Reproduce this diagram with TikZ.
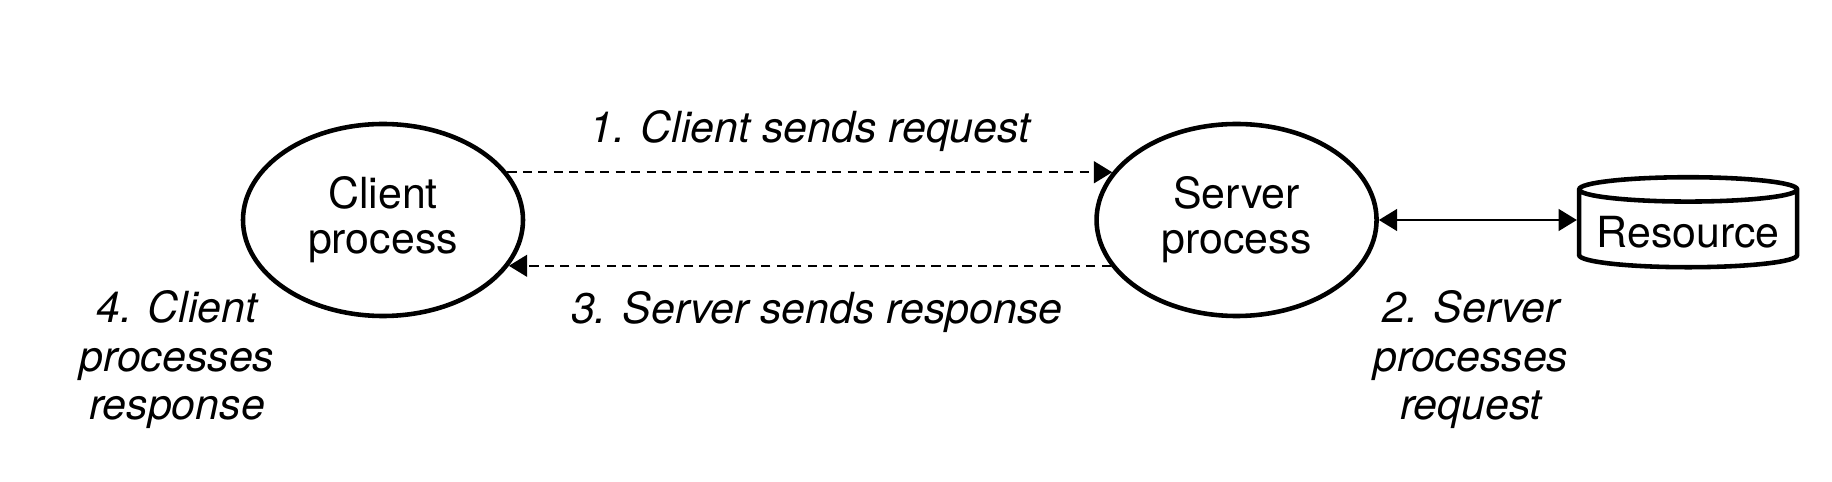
\documentclass[tikz,border=0pt]{standalone}
\usepackage{fontspec}
\setmainfont{TeX Gyre Heros}
\usetikzlibrary{positioning}
\usetikzlibrary{shapes.geometric}
\usetikzlibrary{arrows.meta}
\usetikzlibrary{calc}

\begin{document}
\begin{tikzpicture}[
  font=\fontsize{12.2}{13.8}\selectfont,
  proc/.style={draw, ellipse, line width=1.3pt, align=center, minimum width=2.8cm, minimum height=1.92cm, inner sep=0pt, font=\fontsize{12.2}{12.8}\selectfont},
  store/.style={draw, cylinder, shape border rotate=90, aspect=0.12, line width=1.3pt, minimum width=2.18cm, minimum height=0.9cm, inner sep=0.1cm},
  msg/.style={-{Triangle[length=5.2pt, width=6.2pt]}, line width=0.6pt, dash pattern=on 2.6pt off 1.8pt},
  link/.style={{Triangle[length=5.2pt, width=6.2pt]}-{Triangle[length=5.2pt, width=6.2pt]}, line width=0.6pt},
  note/.style={font=\fontsize{12.2}{13.8}\selectfont\itshape, align=center}
]
\useasboundingbox (0,0) rectangle (18.32,4.82);

% Processes
\node[proc] (client) at (3.83,2.62) {Client\\process};
\node[proc, right=5.69cm of client] (server) {Server\\process};

% Resource (disk)
\node[store, right=1.98cm of server, yshift=-0.12cm] (res) {Resource};

% Request / response
\draw[msg] (client.21) -- (server.159);
\draw[msg] (server.-160) -- (client.-20);
\draw[link] (server.east) -- (server.east -| res.west);

% Step labels
\node[note, anchor=base] (send) at ($(client)!0.5!(server)+(0,0.77)$) {1. Client sends request};
\node[note, anchor=base] (reply) at ($(client)!0.5!(server)+(0.07,-1.04)$) {3. Server sends response};
\node[note, anchor=base] (handle) at (14.71,0.62) {2. Server\\processes\\request};
\node[note, anchor=base] (use) at (1.77,0.62) {4. Client\\processes\\response};

\end{tikzpicture}
\end{document}
